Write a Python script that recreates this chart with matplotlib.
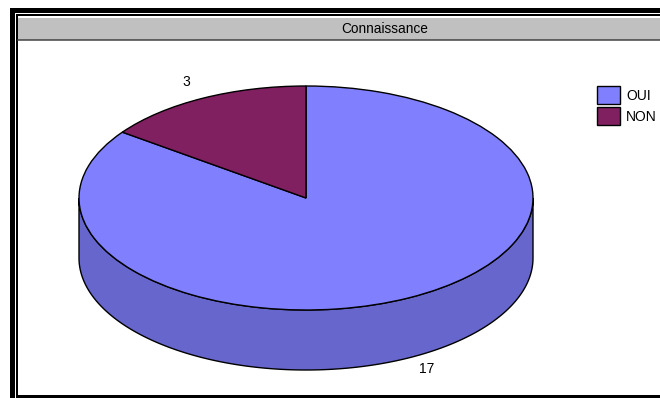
import numpy as np
import matplotlib.pyplot as plt
from matplotlib.patches import Wedge, Polygon, Rectangle, Patch
from matplotlib.transforms import Affine2D

#%% Données
titre = 'Connaissance'
categories = ['OUI', 'NON']
valeurs = [17, 3]
couleurs = ['#8080FF', '#802060']
couleurs_cote = ['#6666CC', '#66194D']

#%% Figure en pixels
plt.rcParams['font.family'] = ['Liberation Sans', 'DejaVu Sans']
fig = plt.figure(figsize=(6.6, 3.98), dpi=100)
ax = fig.add_axes([0, 0, 1, 1])
ax.set_xlim(0, 660)
ax.set_ylim(398, 0)
ax.axis('off')

# cadre
px = 0.72
ax.plot([11.5, 11.5, 660], [398, 10, 10], color='black', lw=5*px, solid_joinstyle='miter')
ax.plot([16.5, 16.5, 660], [398, 15, 15], color='black', lw=2*px, solid_joinstyle='miter')
ax.plot([16.5, 660], [396, 396], color='black', lw=3*px)
ax.add_patch(Rectangle((18, 18), 660, 21.5, facecolor='#C0C0C0', edgecolor='none'))
ax.plot([18, 660], [39.8, 39.8], color='#404040', lw=1.5*px)
ax.text(385, 29, titre, ha='center', va='center', fontsize=9.8)

#%% Camembert 3D
cx, cy, rx, ry, prof = 306, 198, 227, 112, 60
trans = Affine2D().scale(rx, -ry).translate(cx, cy) + ax.transData
dz = prof / ry

total = sum(valeurs)
angles = [90]
for v in valeurs[::-1]:
    angles.append(angles[-1] + 360 * v / total)
# angles: NON de 90 à 144, OUI de 144 à 450
bornes = {categories[1]: (angles[0], angles[1]), categories[0]: (angles[1], angles[2])}

# côté (partie avant, 180 à 360 degrés)
for i, cat in enumerate(categories):
    a0, a1 = bornes[cat]
    segs = []
    for lo, hi in [(a0, a1), (a0 - 360, a1 - 360), (a0 + 360, a1 + 360)]:
        lo2, hi2 = max(lo, 180), min(hi, 360)
        if hi2 > lo2:
            segs.append((lo2, hi2))
    for lo, hi in segs:
        t = np.radians(np.linspace(lo, hi, 200))
        haut = np.column_stack([np.cos(t), np.sin(t)])
        bas = np.column_stack([np.cos(t[::-1]), np.sin(t[::-1]) - dz])
        ax.add_patch(Polygon(np.vstack([haut, bas]), closed=True, transform=trans,
                             facecolor=couleurs_cote[i], edgecolor='black', lw=1.0))

# dessus
for i, cat in enumerate(categories):
    a0, a1 = bornes[cat]
    ax.add_patch(Wedge((0, 0), 1, a0, a1, transform=trans,
                       facecolor=couleurs[i], edgecolor='black', lw=1.0))

# étiquettes
ax.text(186, 82, str(valeurs[1]), ha='center', va='center', fontsize=10)
ax.text(427, 369, str(valeurs[0]), ha='center', va='center', fontsize=10)

#%% Légende
poignees = [Patch(facecolor=c, edgecolor='black', lw=1.0) for c in couleurs]
fig.legend(poignees, categories, loc='upper left', bbox_to_anchor=(586/660, 1 - 75/398),
           frameon=False, fontsize=10, handlelength=1.65, handleheight=1.6,
           labelspacing=0.25, handletextpad=0.45, borderpad=0.3)

plt.savefig('out.png', dpi=100)
